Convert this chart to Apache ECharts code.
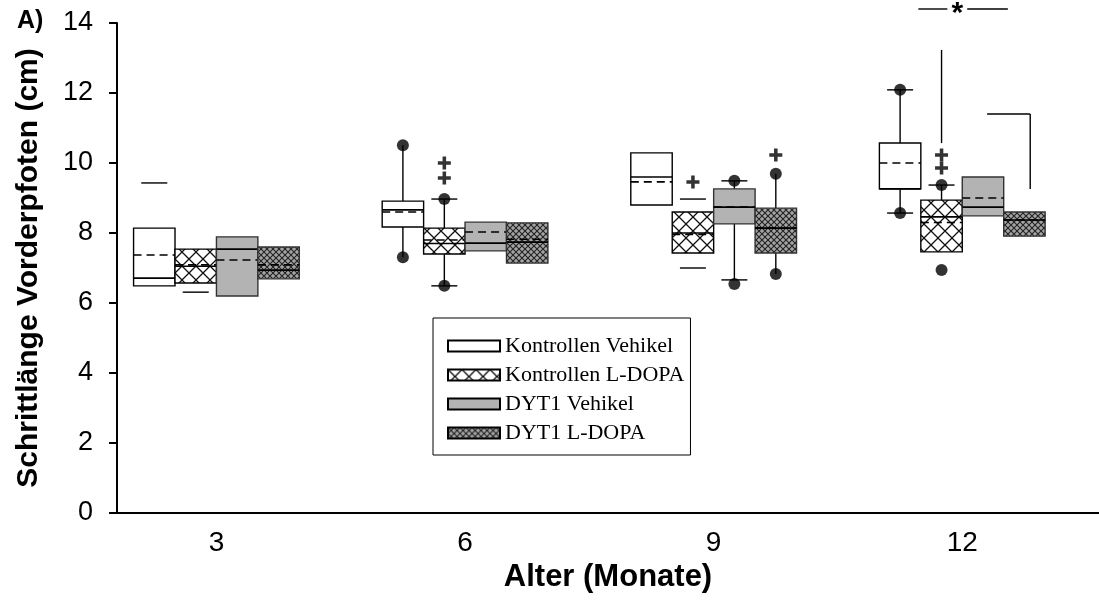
<!DOCTYPE html>
<html>
<head>
<meta charset="utf-8">
<script src="https://cdn.jsdelivr.net/npm/echarts@6/dist/echarts.min.js"></script>
<style>
  html, body { margin: 0; padding: 0; background: #fff; }
  #chart { width: 1099px; height: 603px; }
</style>
</head>
<body>
<div id="chart"></div>
<script>
// Ages (months) and treatment groups
const months = [3, 6, 9, 12];
const groupNames = ['Kontrollen Vehikel', 'Kontrollen L-DOPA', 'DYT1 Vehikel', 'DYT1 L-DOPA'];
const yTicks = [0, 2, 4, 6, 8, 10, 12, 14];

// Box statistics, one row per group, one column per age (cm)
const q3Values = [
  [8.14, 8.91, 10.29, 10.57],
  [7.54, 8.14, 8.60, 8.94],
  [7.89, 8.31, 9.26, 9.60],
  [7.60, 8.29, 8.71, 8.60]
];
const q1Values = [
  [6.49, 8.17, 8.80, 9.26],
  [6.57, 7.40, 7.43, 7.46],
  [6.20, 7.49, 8.26, 8.49],
  [6.69, 7.14, 7.43, 7.91]
];
const medianValues = [
  [6.71, 8.66, 9.60, 9.26],
  [7.05, 7.70, 8.00, 8.46],
  [7.54, 7.71, 8.74, 8.74],
  [6.94, 7.74, 8.14, 8.37]
];
const meanValues = [
  [7.37, 8.60, 9.46, 10.00],
  [7.09, 7.80, 7.96, 8.30],
  [7.23, 8.03, 8.74, 9.00],
  [7.09, 7.82, 8.14, 8.37]
];
// Whisker ends and whisker caps (null = not drawn)
const whiskerHigh = [
  [null, 10.51, null, 12.09],
  [null, 8.97, null, 9.37],
  [null, null, 9.49, null],
  [null, null, 9.69, null]
];
const whiskerLow = [
  [null, 7.31, null, 8.57],
  [null, 6.49, null, null],
  [null, null, 6.66, null],
  [null, null, 6.83, null]
];
const capHigh = [
  [9.43, null, null, 12.09],
  [null, 8.97, 8.97, 9.37],
  [null, null, 9.49, null],
  [null, null, null, null]
];
const capLow = [
  [null, null, null, 8.57],
  [6.31, 6.49, 7.00, null],
  [null, null, 6.66, null],
  [null, null, null, null]
];
// Outlying points: [group, age, value]
const outlierDots = [
  [0, 6, 10.51], [0, 6, 7.31], [0, 12, 12.09], [0, 12, 8.57],
  [1, 6, 8.97], [1, 6, 6.49], [1, 12, 9.37], [1, 12, 6.94],
  [2, 9, 9.49], [2, 9, 6.54],
  [3, 9, 9.69], [3, 9, 6.83]
];
// "+" significance marks: [group, age, value]
const plusMarks = [
  [1, 6, 10.00], [1, 6, 9.57], [1, 9, 9.46], [3, 9, 10.23],
  [1, 12, 10.23], [1, 12, 9.86]
];
// Significance brackets at 12 months: [x1, y1, x2, y2] in axis units
const bracketLines = [
  [11.47, 14.4, 11.82, 14.4],
  [12.06, 14.4, 12.55, 14.4],
  [11.75, 10.57, 11.75, 13.23],
  [12.30, 11.40, 12.82, 11.40],
  [12.82, 11.40, 12.82, 9.26]
];
const starMark = [11.94, 14.4];

const boxStep = 0.5; // width of one box in months

function makePattern(size, bg, ink, lw) {
  const c = document.createElement('canvas');
  c.width = size; c.height = size;
  const ctx = c.getContext('2d');
  ctx.fillStyle = bg;
  ctx.fillRect(0, 0, size, size);
  ctx.strokeStyle = ink;
  ctx.lineWidth = lw;
  ctx.beginPath();
  ctx.moveTo(-1, -1); ctx.lineTo(size + 1, size + 1);
  ctx.moveTo(size + 1, -1); ctx.lineTo(-1, size + 1);
  ctx.stroke();
  return { image: c, repeat: 'repeat' };
}

const groupFills = [
  '#ffffff',
  makePattern(14, '#ffffff', '#111111', 1.3),
  '#b3b3b3',
  makePattern(6, '#a4a4a4', '#222222', 1.1)
];
const groupStrokes = ['#000', '#000', '#333', '#333'];

function xOf(g, m) {
  return m + (g - 1.5) * boxStep;
}

function boxRenderer(g) {
  return function (params, api) {
    const i = params.dataIndex;
    const m = months[i];
    const xc = xOf(g, m);
    const half = api.size([boxStep, 0])[0] / 2;
    const top = api.coord([xc, q3Values[g][i]]);
    const cx = top[0];
    const yTop = top[1];
    const yBot = api.coord([xc, q1Values[g][i]])[1];
    const yMed = api.coord([xc, medianValues[g][i]])[1];
    const yMean = api.coord([xc, meanValues[g][i]])[1];
    const line = { stroke: '#000', lineWidth: 1.4 };
    const kids = [];
    if (whiskerHigh[g][i] != null) {
      const y = api.coord([xc, whiskerHigh[g][i]])[1];
      kids.push({ type: 'line', shape: { x1: cx, y1: yTop, x2: cx, y2: y }, style: line });
    }
    if (whiskerLow[g][i] != null) {
      const y = api.coord([xc, whiskerLow[g][i]])[1];
      kids.push({ type: 'line', shape: { x1: cx, y1: yBot, x2: cx, y2: y }, style: line });
    }
    [capHigh[g][i], capLow[g][i]].forEach(function (v) {
      if (v == null) return;
      const y = api.coord([xc, v])[1];
      kids.push({ type: 'line', shape: { x1: cx - 13, y1: y, x2: cx + 13, y2: y }, style: line });
    });
    kids.push({
      type: 'rect',
      shape: { x: cx - half, y: yTop, width: half * 2, height: yBot - yTop },
      style: { fill: groupFills[g], stroke: groupStrokes[g], lineWidth: 1.4 }
    });
    kids.push({
      type: 'line',
      shape: { x1: cx - half, y1: yMed, x2: cx + half, y2: yMed },
      style: { stroke: '#000', lineWidth: 1.6 }
    });
    kids.push({
      type: 'line',
      shape: { x1: cx - half, y1: yMean, x2: cx + half, y2: yMean },
      style: { stroke: '#000', lineWidth: 1.6, lineDash: [8, 5] }
    });
    return { type: 'group', children: kids };
  };
}

const boxSeries = groupNames.map(function (name, g) {
  return {
    name: name,
    type: 'custom',
    renderItem: boxRenderer(g),
    itemStyle: { color: groupFills[g], borderColor: '#000', borderWidth: 1 },
    encode: { x: 0, y: [1, 2] },
    data: months.map(function (m, i) { return [xOf(g, m), q1Values[g][i], q3Values[g][i]]; }),
    z: 2
  };
});

const sans = '"Liberation Sans", Arial, sans-serif';
const chart = echarts.init(document.getElementById('chart'), null, { renderer: 'canvas' });

chart.setOption({
  animation: false,
  backgroundColor: '#ffffff',
  graphic: [{
    type: 'text', left: 17, top: 9,
    style: { text: 'A)', font: 'bold 25px ' + sans, fill: '#000' }
  }],
  grid: { left: 117, right: 0, top: 23, bottom: 90 },
  legend: {
    data: groupNames,
    orient: 'vertical',
    left: 433,
    top: 318,
    icon: 'rect',
    itemWidth: 52,
    itemHeight: 11,
    itemGap: 7,
    itemTextGap: 11,
    padding: [17, 6, 11, 14],
    borderColor: '#000',
    borderWidth: 1,
    selectedMode: false,
    textStyle: { fontFamily: '"Liberation Serif", "Times New Roman", serif', fontSize: 22, color: '#000', lineHeight: 22 }
  },
  xAxis: {
    type: 'value',
    min: 1.8,
    max: 13.65,
    axisLine: { lineStyle: { color: '#000', width: 2 } },
    axisTick: { show: false },
    splitLine: { show: false },
    axisLabel: {
      customValues: months,
      margin: 16,
      fontSize: 28,
      color: '#000',
      fontFamily: '"Liberation Sans Narrow", "Liberation Sans", Arial, sans-serif'
    },
    name: 'Alter (Monate)',
    nameLocation: 'middle',
    nameGap: 49,
    nameTextStyle: { fontSize: 31, fontWeight: 'bold', color: '#000', fontFamily: sans }
  },
  yAxis: {
    type: 'value',
    min: yTicks[0],
    max: yTicks[yTicks.length - 1],
    interval: 2,
    axisLine: { show: true, lineStyle: { color: '#000', width: 2 } },
    axisTick: { show: true, inside: false, length: 8, lineStyle: { color: '#000', width: 2 } },
    splitLine: { show: false },
    axisLabel: { margin: 24, fontSize: 27, color: '#000', fontFamily: sans },
    name: 'Schrittlänge Vorderpfoten (cm)',
    nameLocation: 'middle',
    nameGap: 73,
    nameTextStyle: { fontSize: 30, fontWeight: 'bold', color: '#000', fontFamily: sans }
  },
  series: boxSeries.concat([
    {
      name: 'outliers',
      type: 'scatter',
      symbol: 'circle',
      symbolSize: 12,
      itemStyle: { color: '#000' },
      data: outlierDots.map(function (d) { return [xOf(d[0], d[1]), d[2]]; }),
      z: 5
    },
    {
      name: 'plus',
      type: 'scatter',
      symbol: 'path://M4,0H7V4H11V7H7V11H4V7H0V4H4Z',
      symbolSize: 13,
      itemStyle: { color: '#000' },
      data: plusMarks.map(function (d) { return [xOf(d[0], d[1]), d[2]]; }),
      z: 5
    },
    {
      name: 'brackets',
      type: 'custom',
      clip: false,
      data: [[starMark[0], starMark[1]]],
      renderItem: function (params, api) {
        const kids = bracketLines.map(function (b) {
          const p1 = api.coord([b[0], b[1]]);
          const p2 = api.coord([b[2], b[3]]);
          return { type: 'line', shape: { x1: p1[0], y1: p1[1], x2: p2[0], y2: p2[1] }, style: { stroke: '#000', lineWidth: 1.4 } };
        });
        const s = api.coord(starMark);
        kids.push({
          type: 'text',
          x: s[0], y: s[1] + 5,
          style: { text: '*', font: 'bold 30px ' + sans, fill: '#000', align: 'center', verticalAlign: 'middle' }
        });
        return { type: 'group', children: kids };
      },
      z: 5
    }
  ])
});
</script>
</body>
</html>
